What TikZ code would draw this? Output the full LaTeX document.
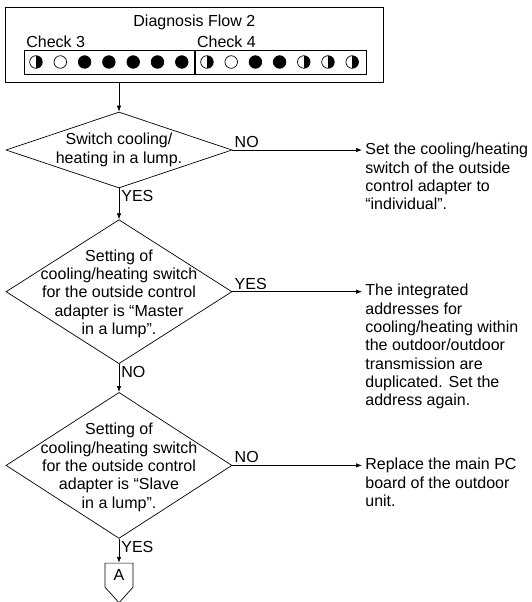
\documentclass[tikz,border=0pt]{standalone}
\usepackage{fontspec}
\setmainfont{Liberation Sans}
\usetikzlibrary{shapes.geometric,shapes.symbols,arrows.meta,positioning}

\begin{document}
\begin{tikzpicture}[
  x=1pt, y=-1pt,
  font=\fontsize{16}{18.3}\selectfont,
  line width=0.7pt,
  dia/.style={diamond, draw, minimum width=226pt, inner sep=0pt},
  txt/.style={align=center, inner sep=0pt},
  note/.style={align=left, inner sep=3pt, anchor=north west},
  lbl/.style={inner sep=2pt},
  arr/.style={-{Latex[length=6pt, width=4.5pt]}},
  rowbox/.style={rectangle, draw, minimum height=24pt, inner sep=0pt},
  lamp/.style={circle, draw, minimum size=12.6pt, inner sep=0pt},
  on/.style={fill=black},
  off/.style={fill=white},
  half/.style={path picture={\fill[black] (path picture bounding box.north)
               rectangle (path picture bounding box.south east);}},
  conn/.style={signal, signal to=south, signal from=nowhere, draw,
               minimum width=28pt, minimum height=30pt, inner sep=0pt,
               signal pointer angle=84}
]
\useasboundingbox (0,0) rectangle (532,602);

% --- Header ---
\node[draw, minimum width=378pt, minimum height=75pt, inner sep=0pt,
      anchor=north west] (hdr) at (5,7) {};
\node[anchor=base] (title) at ([yshift=-20pt]hdr.north) {Diagnosis Flow 2};
\node[rowbox, minimum width=170pt, anchor=north west] (chk3) at (24,50) {};
\node[rowbox, minimum width=171pt, anchor=west] (chk4) at (chk3.east) {};
\node[lbl, anchor=south west] (lbl3) at (chk3.north west) {Check 3};
\node[lbl, anchor=south west] (lbl4) at (chk4.north west) {Check 4};

% lamps
\foreach \st [count=\i from 0] in {half,off,on,on,on,on,on}
  \node[lamp, \st] (l3-\i) at (36+24.3*\i, 62) {};
\foreach \st [count=\i from 0] in {half,off,on,on,half,half,half}
  \node[lamp, \st] (l4-\i) at (207+24.2*\i, 62) {};

% --- Decisions ---
\node[dia, minimum height=76pt] (q1) at (119,150) {};
\node[txt] (q1t) at (q1) {Switch cooling/\\heating in a lump.};

\node[dia, minimum height=144pt, below=31pt of q1] (q2) {};
\node[txt] (q2t) at ([yshift=-2pt]q2.center) {Setting of\\cooling/heating switch\\for the outside control\\adapter is “Master\\in a lump”.};

\node[dia, minimum height=146pt, below=28pt of q2] (q3) {};
\node[txt] (q3t) at ([yshift=-2pt]q3.center) {Setting of\\cooling/heating switch\\for the outside control\\adapter is “Slave\\in a lump”.};

\node[conn, below=24pt of q3] (conA) {A};

% --- Actions ---
\node[note] (a1) at (362,140) {Set the cooling/heating\\switch of the outside\\control adapter to\\“individual”.};
\node[note] (a2) at (362,281) {The integrated\\addresses for\\cooling/heating within\\the outdoor/outdoor\\transmission are\\duplicated. Set the\\address again.};
\node[note] (a3) at (362,455) {Replace the main PC\\board of the outdoor\\unit.};

% --- Arrows ---
\draw[arr] (q1.north |- hdr.south) -- (q1.north);
\draw[arr] (q1.east) -- node[lbl, pos=0, anchor=south west] (n1) {NO} (q1.east -| a1.west);
\draw[arr] (q1.south) -- node[lbl, pos=0, anchor=north west] (y1) {YES} (q2.north);
\draw[arr] (q2.east) -- node[lbl, pos=0, anchor=south west] (y2) {YES} (q2.east -| a2.west);
\draw[arr] (q2.south) -- node[lbl, pos=0, anchor=north west] (n2) {NO} (q3.north);
\draw[arr] (q3.east) -- node[lbl, pos=0, anchor=south west] (n3) {NO} (q3.east -| a3.west);
\draw[arr] (q3.south) -- node[lbl, pos=0, anchor=north west] (y3) {YES} (conA.north);

\end{tikzpicture}
\end{document}
